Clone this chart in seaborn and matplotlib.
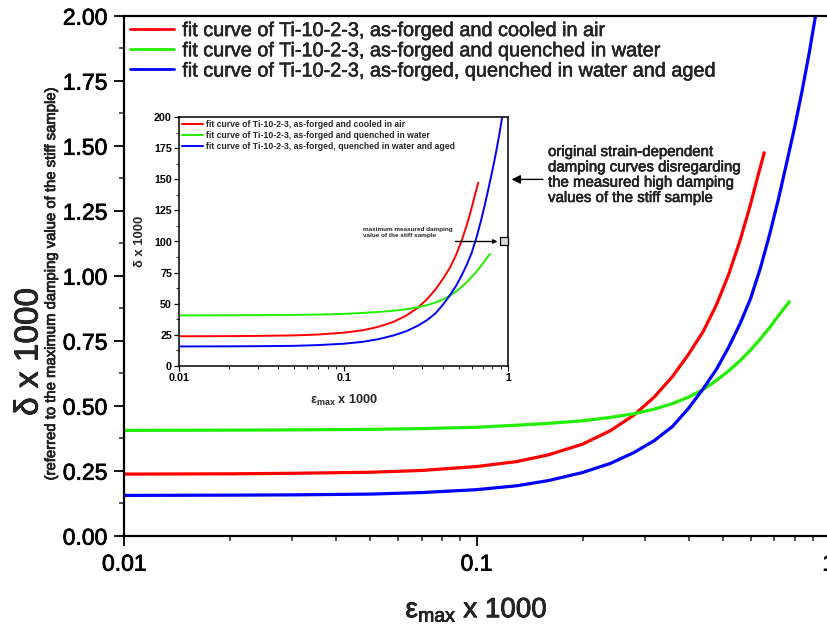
import numpy as np
import pandas as pd
import matplotlib
matplotlib.use("Agg")
import matplotlib.pyplot as plt
import matplotlib.patheffects as pe
import seaborn as sns
from matplotlib.ticker import FixedLocator, FixedFormatter, LogLocator, NullFormatter, MultipleLocator, FormatStrFormatter

# ---------------- data ----------------
series_names = [
    "fit curve of Ti-10-2-3, as-forged and cooled in air",
    "fit curve of Ti-10-2-3, as-forged and quenched in water",
    "fit curve of Ti-10-2-3, as-forged, quenched in water and aged",
]
series_colors = ["#ff0000", "#22ee00", "#0000ff"]

air_strain = [0.01, 0.02, 0.03, 0.05, 0.07, 0.1, 0.13, 0.16, 0.2, 0.24, 0.28, 0.32,
              0.36, 0.4, 0.44, 0.48, 0.52, 0.56, 0.6, 0.63, 0.656]
air_delta = [0.237, 0.238, 0.240, 0.244, 0.251, 0.266, 0.285, 0.311, 0.352, 0.404, 0.464, 0.534,
             0.612, 0.698, 0.785, 0.888, 1.005, 1.135, 1.275, 1.385, 1.473]

water_strain = [0.01, 0.02, 0.03, 0.05, 0.07, 0.1, 0.13, 0.16, 0.2, 0.24, 0.28, 0.32,
                0.36, 0.4, 0.44, 0.48, 0.52, 0.56, 0.6, 0.64, 0.68, 0.72, 0.773]
water_delta = [0.405, 0.406, 0.407, 0.409, 0.412, 0.417, 0.425, 0.432, 0.442, 0.455, 0.469, 0.487,
               0.508, 0.533, 0.562, 0.597, 0.634, 0.673, 0.714, 0.757, 0.801, 0.846, 0.900]

aged_strain = [0.01, 0.02, 0.03, 0.05, 0.07, 0.1, 0.13, 0.16, 0.2, 0.24, 0.28, 0.32,
               0.36, 0.4, 0.44, 0.48, 0.52, 0.56, 0.6, 0.64, 0.68, 0.72, 0.76, 0.8,
               0.84, 0.88, 0.92, 0.94]
aged_delta = [0.155, 0.156, 0.157, 0.160, 0.166, 0.177, 0.192, 0.212, 0.243, 0.278, 0.320, 0.366,
              0.420, 0.490, 0.565, 0.640, 0.725, 0.815, 0.912, 1.030, 1.160, 1.295, 1.435, 1.570,
              1.710, 1.855, 2.010, 2.120]

stiff_max_strain = [0.936]
stiff_max_delta = [100]

x_ticks = [0.01, 0.1, 1]
x_tick_labels = ["0.01", "0.1", "1"]
main_y_ticks = [0.0, 0.25, 0.5, 0.75, 1.0, 1.25, 1.5, 1.75, 2.0]
inset_y_ticks = [0, 25, 50, 75, 100, 125, 150, 175, 200]

# ---------------- build a long table ----------------
frames = []
for name, xs, ys in zip(series_names, [air_strain, water_strain, aged_strain],
                        [air_delta, water_delta, aged_delta]):
    frames.append(pd.DataFrame({"strain": xs, "delta": ys, "series": name}))
df = pd.concat(frames, ignore_index=True)
df["delta_inset"] = df["delta"] * 100
palette = dict(zip(series_names, series_colors))

# ---------------- style ----------------
sns.set_theme(style="white")
plt.rcParams["font.family"] = ["Liberation Sans", "DejaVu Sans"]
plt.rcParams["mathtext.fontset"] = "custom"
plt.rcParams["mathtext.rm"] = "Liberation Sans"
plt.rcParams["mathtext.it"] = "Liberation Sans"
plt.rcParams["mathtext.bf"] = "Liberation Sans:bold"

heavy = [pe.withStroke(linewidth=0.55, foreground="black")]

W, H = 827, 632
fig = plt.figure(figsize=(W / 100, H / 100), dpi=100)
fig.patch.set_facecolor("white")

def fx(px):
    return px / W

def fy(py):
    return 1 - py / H

# ---------------- main axes ----------------
L, R, T, B = 124.3, 828.7, 15.7, 535.7
ax = fig.add_axes([fx(L), fy(B), (R - L) / W, (B - T) / H])
sns.lineplot(data=df, x="strain", y="delta", hue="series", palette=palette,
             hue_order=series_names, estimator=None, sort=False, lw=2.3, ax=ax)
ax.set_xscale("log")
ax.set_xlim(0.01, 1)
ax.set_ylim(0, 2.0)
ax.xaxis.set_major_locator(FixedLocator(x_ticks))
ax.xaxis.set_major_formatter(FixedFormatter(x_tick_labels))
ax.xaxis.set_minor_locator(LogLocator(base=10, subs=np.arange(2, 10)))
ax.xaxis.set_minor_formatter(NullFormatter())
ax.yaxis.set_major_locator(FixedLocator(main_y_ticks))
ax.yaxis.set_major_formatter(FormatStrFormatter("%.2f"))
ax.yaxis.set_minor_locator(MultipleLocator(0.125))
ax.tick_params(which="major", direction="out", length=7.2, width=1.3, labelsize=16.5,
               pad=5, colors="black", bottom=True, left=True)
ax.tick_params(which="minor", direction="out", length=3.6, width=1.1, bottom=True, left=True)
for lab in ax.get_xticklabels() + ax.get_yticklabels():
    lab.set_path_effects(heavy)
for s in ax.spines.values():
    s.set_linewidth(1.6)
    s.set_color("black")
ax.set_xlabel("")
ax.set_ylabel("")
ax.set_facecolor("white")

leg = ax.legend(loc="upper left", bbox_to_anchor=(0.0, 1.0), frameon=False, fontsize=14.3,
                handlelength=2.25, handletextpad=0.4, labelspacing=0.06, borderaxespad=0,
                borderpad=0.27)
for line in leg.get_lines():
    line.set_linewidth(2.0)
for t in leg.get_texts():
    t.set_path_effects([pe.withStroke(linewidth=0.35, foreground="black")])

fig.text(fx(476.5), fy(610), "ε$_{\\mathrm{max}}$ x 1000", fontsize=20, ha="center",
         va="center", path_effects=heavy)
fig.text(fx(29), fy(352), "δ x 1000", fontsize=24, rotation=90, ha="center", va="center",
         path_effects=heavy)
fig.text(fx(51), fy(283), "(referred to the maximum damping value of the stiff sample)",
         fontsize=10.7, rotation=90, ha="center", va="center",
         path_effects=[pe.withStroke(linewidth=0.5, foreground="black")])

# ---------------- inset ----------------
iL, iR, iT, iB = 179.3, 508.3, 117.3, 365.7
axi = fig.add_axes([fx(iL), fy(iB), (iR - iL) / W, (iB - iT) / H])
sns.lineplot(data=df, x="strain", y="delta_inset", hue="series", palette=palette,
             hue_order=series_names, estimator=None, sort=False, lw=1.4, ax=axi)
axi.set_xscale("log")
axi.set_xlim(0.01, 1)
axi.set_ylim(0, 200)
axi.xaxis.set_major_locator(FixedLocator(x_ticks))
axi.xaxis.set_major_formatter(FixedFormatter(x_tick_labels))
axi.xaxis.set_minor_locator(LogLocator(base=10, subs=np.arange(2, 10)))
axi.xaxis.set_minor_formatter(NullFormatter())
axi.yaxis.set_major_locator(FixedLocator(inset_y_ticks))
axi.yaxis.set_minor_locator(MultipleLocator(12.5))
axi.tick_params(which="major", direction="out", length=3.8, width=0.9, labelsize=7.7,
                pad=1.5, colors="black", bottom=True, left=True)
axi.tick_params(which="minor", direction="out", length=2.2, width=0.8, bottom=True, left=True)
for lab in axi.get_xticklabels() + axi.get_yticklabels():
    lab.set_fontweight("bold")
for s in axi.spines.values():
    s.set_linewidth(1.1)
    s.set_color("black")
axi.set_xlabel("")
axi.set_ylabel("")
axi.set_facecolor("white")

ileg = axi.legend(loc="upper left", bbox_to_anchor=(0.0, 1.0), frameon=False,
                  prop={"size": 6.2, "weight": "bold"}, handlelength=2.45, handletextpad=0.27,
                  labelspacing=0.2, borderaxespad=0, borderpad=0.35)
for line in ileg.get_lines():
    line.set_linewidth(1.4)

axi.plot(stiff_max_strain, stiff_max_delta, marker="s", ms=6, mfc="#d8dcdc", mec="black",
         mew=0.9, ls="none", clip_on=False, zorder=5)
axi.annotate("", xy=(0.86, 100), xytext=(0.478, 100),
             arrowprops=dict(arrowstyle="-|>", lw=1.0, color="black", mutation_scale=6,
                             shrinkA=0, shrinkB=0))
fig.text(fx(363), fy(227), "maximum measured damping\nvalue of the stiff sample",
         fontsize=4.6, fontweight="bold", ha="left", va="top", linespacing=1.25)

fig.text(fx(343.8), fy(400.7), "ε$_{\\mathbf{max}}$ x 1000", fontsize=9.2, fontweight="bold",
         ha="center", va="center")
fig.text(fx(140), fy(241.5), "δ x 1000", fontsize=9.4, fontweight="bold", rotation=90,
         ha="center", va="center")

# outer annotation
axi.annotate("", xy=(1.01, 150), xycoords=("axes fraction", "data"),
             xytext=(1.105, 150), textcoords=("axes fraction", "data"),
             arrowprops=dict(arrowstyle="-|>", lw=1.0, color="black", mutation_scale=13,
                             shrinkA=0, shrinkB=0), annotation_clip=False)
fig.text(fx(548), fy(145), "original strain-dependent\ndamping curves disregarding\n"
         "the measured high damping\nvalues of the stiff sample",
         fontsize=10.8, ha="left", va="top", linespacing=1.12,
         path_effects=[pe.withStroke(linewidth=0.4, foreground="black")])

fig.savefig("out.png", dpi=100, facecolor="white")
